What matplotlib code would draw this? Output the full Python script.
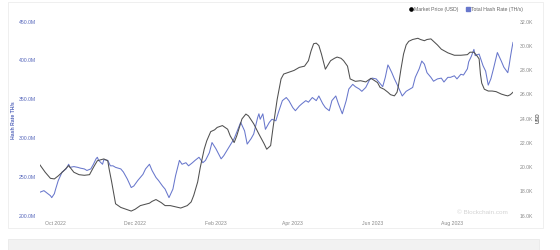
import numpy as np
import pandas as pd
import matplotlib
matplotlib.use("Agg")
import matplotlib.pyplot as plt
import matplotlib.dates as mdates
from matplotlib.patches import Rectangle
from matplotlib.lines import Line2D

plt.rcParams["font.family"] = ["Liberation Sans", "DejaVu Sans"]

# days counted from 18 Sep 2022
start_date = "2022-09-18"

price_days = [1, 5, 9, 12, 15, 19, 23, 27, 31, 35, 39, 42, 45, 50, 53, 54, 56, 59, 63, 67,
              71, 74, 78, 85, 87, 90, 94, 97, 101, 105, 109, 114, 117, 119, 122, 124, 127, 129, 132, 135,
              137, 141, 145, 147, 150, 152, 156, 159, 161, 165, 169, 173, 175, 178, 180, 183, 186, 188, 192, 196,
              200, 204, 207, 209, 211, 213, 215, 217, 220, 222, 224, 227, 229, 232, 234, 237, 239, 243, 247, 251,
              255, 260, 262, 265, 268, 270, 273, 275, 276, 278, 280, 282, 284, 287, 291, 293, 296, 298, 301, 303,
              306, 309, 314, 319, 324, 329, 331, 334, 336, 338, 339, 340, 342, 345, 348, 351, 355, 358, 360, 362, 364]
price_k = [20.1, 19.5, 19.0, 18.95, 19.2, 19.6, 20.05, 19.5, 19.3, 19.25, 19.3, 19.9, 20.45, 20.6, 20.45, 19.8, 18.7, 16.9, 16.6, 16.45,
           16.3, 16.45, 16.75, 16.95, 17.1, 17.25, 17.0, 16.75, 16.75, 16.65, 16.55, 16.75, 17.05, 17.6, 18.7, 19.9, 21.4, 22.1, 22.85, 23.0,
           23.2, 23.35, 23.05, 22.5, 21.95, 22.5, 23.9, 24.3, 24.15, 23.5, 22.65, 21.85, 21.4, 21.7, 23.3, 25.5, 27.2, 27.6, 27.75, 27.9,
           28.15, 28.25, 28.7, 29.5, 30.1, 30.15, 29.95, 29.25, 28.0, 28.35, 28.7, 28.9, 29.0, 28.9, 28.7, 28.25, 27.2, 27.0, 27.05, 26.95,
           27.25, 26.9, 26.5, 26.35, 26.1, 25.9, 25.8, 26.1, 26.6, 28.0, 29.25, 30.0, 30.3, 30.45, 30.55, 30.45, 30.35, 30.45, 30.5, 30.3,
           30.0, 29.65, 29.35, 29.15, 29.15, 29.2, 29.4, 29.4, 29.15, 28.85, 27.6, 26.85, 26.35, 26.2, 26.2, 26.15, 25.95, 25.85, 25.8, 25.9, 26.1]

hash_days = [1, 4, 7, 9, 10, 12, 13, 15, 18, 21, 23, 24, 27, 30, 32, 35, 37, 40, 42, 44,
             45, 46, 49, 50, 53, 55, 57, 59, 63, 65, 68, 71, 73, 76, 80, 82, 85, 87, 90, 92,
             95, 97, 100, 103, 105, 108, 110, 113, 115, 118, 120, 123, 126, 128, 131, 133, 136, 140, 142, 146,
             150, 154, 155, 158, 160, 163, 165, 168, 169, 170, 172, 174, 177, 179, 182, 184, 187, 190, 192, 195,
             197, 200, 202, 205, 207, 210, 213, 215, 218, 220, 223, 225, 228, 230, 233, 236, 238, 241, 243, 246,
             248, 251, 254, 256, 259, 261, 264, 266, 268, 269, 271, 273, 275, 278, 279, 282, 284, 287, 289, 292,
             294, 296, 298, 301, 303, 306, 309, 311, 314, 316, 319, 321, 324, 326, 329, 330, 332, 334, 335, 338,
             341, 343, 345, 347, 349, 352, 355, 357, 360, 361, 362, 363, 364]
hash_m = [229, 231, 227, 224.5, 222, 227, 233, 244, 255, 259, 265, 261, 262, 261, 260, 259, 257, 259, 265, 272,
          274, 270, 265, 271, 270, 263, 263, 261, 259, 255, 246, 235, 237, 244, 252, 259, 265, 257, 248, 244,
          237, 233, 222, 233, 250, 270, 265, 267, 263, 267, 270, 274, 267, 270, 280, 293, 285, 272, 276, 287,
          298, 315, 319, 308, 291, 298, 304, 325, 330, 323, 330, 310, 319, 323, 321, 332, 347, 351, 347, 338,
          334, 340, 343, 347, 345, 351, 347, 353, 343, 338, 334, 347, 353, 343, 330, 347, 362, 368, 365, 362,
          359, 364, 374, 376, 375, 371, 365, 377, 393, 390, 383, 375, 368, 357, 353, 359, 361, 364, 377, 388,
          398, 394, 383, 377, 372, 375, 376, 371, 377, 377, 379, 375, 381, 380, 388, 397, 404, 413, 405, 407,
          392, 385, 367, 375, 388, 409, 398, 390, 383, 392, 403, 413, 422]

hash_ticks = [200, 250, 300, 350, 400, 450]
price_ticks = [16, 18, 20, 22, 24, 26, 28, 30, 32]
month_ticks = ["2022-10-01", "2022-12-01", "2023-02-01", "2023-04-01", "2023-06-01", "2023-08-01"]

BLUE = "#6877cc"
LABEL_BLUE = "#5566bb"
DARK = "#505050"
GREY = "#8a8a8a"
FS = 3.7


def to_dates(days):
    return pd.Timestamp(start_date) + pd.to_timedelta(days, unit="D")


def ve_bieu_do():
    fig = plt.figure(figsize=(5.6, 2.51), dpi=100)
    fig.patch.set_facecolor("white")

    # card border and grey strip below
    fig.patches.append(Rectangle((8 / 560, 1 - 229 / 251), 535 / 560, 226 / 251,
                                 transform=fig.transFigure, fill=False,
                                 edgecolor="#ececec", linewidth=0.6))
    fig.patches.append(Rectangle((8 / 560, 0), 531 / 560, 11 / 251,
                                 transform=fig.transFigure, facecolor="#f2f2f2",
                                 edgecolor="#e6e6e6", linewidth=0.5))

    ax = fig.add_axes([40 / 560, 1 - 215.7 / 251, 473 / 560, 194 / 251])
    ax2 = ax.twinx()

    ax.plot(to_dates(hash_days), hash_m, color=BLUE, linewidth=0.75, zorder=3)
    ax2.plot(to_dates(price_days), price_k, color=DARK, linewidth=0.75, zorder=2)

    ax.set_xlim(to_dates([1])[0], to_dates([364])[0])
    ax.set_ylim(200, 450)
    ax2.set_ylim(16, 32)

    for a in (ax, ax2):
        for s in a.spines.values():
            s.set_visible(False)
        a.set_facecolor("none")

    ax.set_yticks(hash_ticks)
    ax.set_yticklabels([f"{v:.1f}M" for v in hash_ticks])
    ax.tick_params(axis="y", length=0, pad=3, labelsize=FS, labelcolor=LABEL_BLUE)

    ax2.set_yticks(price_ticks)
    ax2.set_yticklabels([f"{v:.1f}K" for v in price_ticks])
    ax2.tick_params(axis="y", length=0, pad=5, labelsize=FS, labelcolor=GREY)

    ax.set_xticks(pd.to_datetime(month_ticks))
    ax.xaxis.set_major_formatter(mdates.DateFormatter("%b %Y"))
    ax.tick_params(axis="x", length=0, pad=4, labelsize=FS, labelcolor=GREY)

    fig.text(14 / 560, 1 - 120 / 251, "Hash Rate TH/s", rotation=90, color=LABEL_BLUE,
             fontsize=FS, fontweight="bold", ha="center", va="center")
    fig.text(538 / 560, 1 - 118 / 251, "USD", rotation=90, color="#666666",
             fontsize=FS, fontweight="bold", ha="center", va="center")

    fig.text(482 / 560, 1 - 212 / 251, "\u00a9 Blockchain.com", color="#d4d4d4",
             fontsize=4.6, ha="center", va="center")

    handles = [Line2D([0], [0], marker="o", color="none", markerfacecolor="black",
                      markeredgecolor="black", markersize=2.3),
               Line2D([0], [0], marker="s", color="none", markerfacecolor=BLUE,
                      markeredgecolor=BLUE, markersize=2.3)]
    fig.legend(handles, ["Market Price (USD)", "Total Hash Rate (TH/s)"],
               loc="center", bbox_to_anchor=(466 / 560, 1 - 10 / 251), ncol=2,
               frameon=False, fontsize=FS, labelcolor="#666666",
               handlelength=0.6, handletextpad=0.3, columnspacing=1.5)

    fig.savefig("out.png", dpi=100)


def main():
    ve_bieu_do()


if __name__ == "__main__":
    main()
